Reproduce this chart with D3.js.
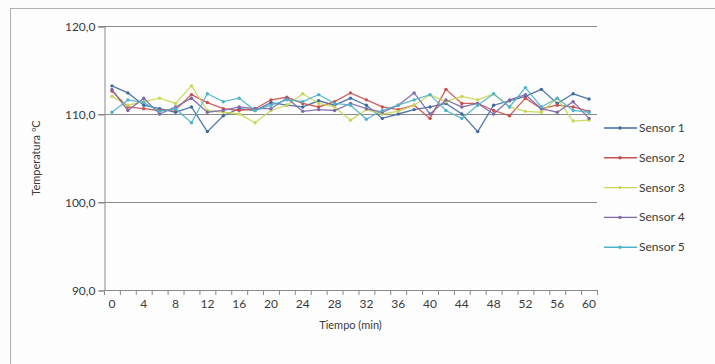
<!DOCTYPE html>
<html><head><meta charset="utf-8">
<script src="https://cdn.jsdelivr.net/npm/d3@7/dist/d3.min.js"></script>
<style>
html,body{margin:0;padding:0;background:#fcfcfc;}
text{font-family:Lato,"Open Sans",sans-serif;fill:#3a3a3a;}
</style></head>
<body><svg id="c" width="715" height="364"></svg>
<script>
const minutes = d3.range(0, 61, 2);
const xTickLabels = [0,4,8,12,16,20,24,28,32,36,40,44,48,52,56,60];
const yTicks = [90,100,110,120];
const seriesNames = ["Sensor 1","Sensor 2","Sensor 3","Sensor 4","Sensor 5"];
const seriesColors = ["#3f6aa0","#c8504e","#c9d655","#7d68a8","#4fb3c9"];
const sensor1 = [113.2,112.4,111.0,110.6,110.2,110.8,108.0,109.8,110.6,110.4,111.3,111.0,110.8,111.5,111.0,111.8,111.0,109.5,110.0,110.5,110.8,111.2,110.0,108.0,111.0,111.5,112.0,112.8,111.2,112.3,111.7];
const sensor2 = [112.6,110.8,110.6,110.4,110.5,112.2,111.3,110.6,110.4,110.6,111.6,111.9,111.2,110.8,111.4,112.4,111.6,110.8,110.5,111.0,109.5,112.8,111.2,111.2,110.4,109.8,111.8,110.6,111.0,110.8,110.3];
const sensor3 = [112.0,111.0,111.4,111.8,111.2,113.2,110.4,110.2,110.0,109.0,110.4,111.0,112.3,111.2,110.8,109.3,110.5,110.0,110.3,111.0,112.2,111.4,112.0,111.6,112.3,110.8,110.3,110.2,111.8,109.2,109.3];
const sensor4 = [112.8,110.4,111.8,110.0,110.8,111.8,110.2,110.4,110.8,110.6,110.6,111.8,110.3,110.5,110.4,111.2,110.6,110.2,111.0,112.4,110.0,111.6,110.8,111.2,110.0,111.6,112.2,110.6,110.2,111.4,109.5];
const sensor5 = [110.2,111.6,111.3,110.3,110.6,109.0,112.3,111.4,111.8,110.4,111.0,111.6,111.4,112.2,111.2,111.0,109.4,110.4,111.0,111.6,112.2,110.4,109.5,111.0,112.3,110.8,113.0,110.8,111.8,110.4,110.2];
const seriesValues = [sensor1,sensor2,sensor3,sensor4,sensor5];

const svg = d3.select("#c");
// chart border
svg.append("rect").attr("x",10.5).attr("y",8.5).attr("width",720).attr("height",380)
  .attr("fill","#fdfdfd").attr("stroke","#b0b0b0");

const pLeft = 104, pRight = 597, pTop = 26, pBottom = 290;
const x = d3.scaleBand().domain(minutes).range([pLeft, pRight]).paddingInner(0).paddingOuter(0);
const y = d3.scaleLinear().domain([90,120]).range([pBottom, pTop]);

// gridlines
svg.append("g").selectAll("line").data(yTicks.filter(t=>t>90)).join("line")
  .attr("x1",pLeft-6).attr("x2",pRight).attr("y1",d=>y(d)+0.5).attr("y2",d=>y(d)+0.5)
  .attr("stroke","#8a8a8a").attr("stroke-width",1);

// y axis
const yAxis = d3.axisLeft(y).tickValues(yTicks).tickSize(6).tickPadding(3)
  .tickFormat(d=>d3.format(".1f")(d).replace(".",","));
const gy = svg.append("g").attr("transform",`translate(${pLeft+0.5},0.5)`).call(yAxis);
gy.select(".domain").attr("stroke","#8a8a8a");
gy.selectAll(".tick line").attr("stroke","#8a8a8a");
gy.selectAll("text").attr("font-size",12).attr("font-family","Lato,sans-serif").attr("fill","#3a3a3a");

// x axis
const xAxis = d3.axisBottom(x).tickValues(xTickLabels).tickSize(0).tickPadding(9);
const gx = svg.append("g").attr("transform",`translate(0,${pBottom+0.5})`).call(xAxis);
gx.select(".domain").attr("stroke","#8a8a8a").attr("d",`M${pLeft},0H${pRight}`);
gx.selectAll("text").attr("font-size",12).attr("font-family","Lato,sans-serif").attr("fill","#3a3a3a");
// category boundary ticks
svg.append("g").selectAll("line").data(d3.range(minutes.length+1)).join("line")
  .attr("x1",i=>pLeft + i*x.bandwidth()+0.5).attr("x2",i=>pLeft + i*x.bandwidth()+0.5)
  .attr("y1",pBottom).attr("y2",pBottom+5).attr("stroke","#8a8a8a");

// axis titles
svg.append("text").attr("x",(pLeft+pRight)/2).attr("y",329).attr("text-anchor","middle")
  .attr("font-size",11).text("Tiempo (min)");
svg.append("text").attr("transform","translate(40,158) rotate(-90)").attr("text-anchor","middle")
  .attr("font-size",11).text("Temperatura ºC");

// series
const line = d3.line().x((d,i)=>x(minutes[i])+x.bandwidth()/2).y(d=>y(d));
seriesValues.forEach((vals,si)=>{
  const g = svg.append("g");
  g.append("path").datum(vals).attr("d",line).attr("fill","none")
    .attr("stroke",seriesColors[si]).attr("stroke-width",1.3).attr("opacity",0.9);
  g.selectAll("circle").data(vals).join("circle")
    .attr("cx",(d,i)=>x(minutes[i])+x.bandwidth()/2).attr("cy",d=>y(d)).attr("r",1.7)
    .attr("fill",seriesColors[si]);
});

// legend
const lg = svg.append("g");
seriesNames.forEach((n,i)=>{
  const ly = 128 + i*29.8;
  lg.append("line").attr("x1",604).attr("x2",637).attr("y1",ly).attr("y2",ly)
    .attr("stroke",seriesColors[i]).attr("stroke-width",1.4);
  lg.append("circle").attr("cx",620).attr("cy",ly).attr("r",1.7).attr("fill",seriesColors[i]);
  lg.append("text").attr("x",639).attr("y",ly+4).attr("font-size",12).text(n);
});
</script></body></html>
